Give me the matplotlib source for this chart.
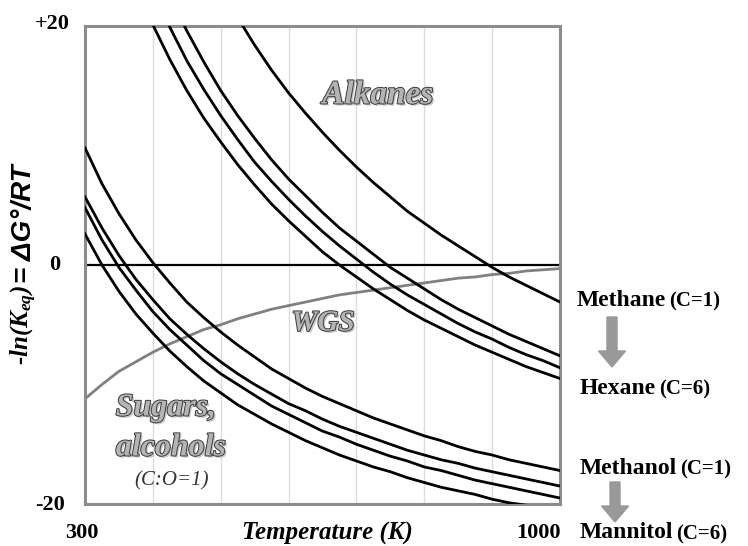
import numpy as np
import matplotlib
matplotlib.use("Agg")
import matplotlib.pyplot as plt
import matplotlib.patheffects as pe
from matplotlib.patches import FancyArrow

nan = np.nan

# temperature (K) and -ln(Keq) values
temps = [300, 325, 350, 375, 400, 425, 450, 475, 500, 525, 550, 575, 600, 625, 650,
         675, 700, 725, 750, 775, 800, 825, 850, 875, 900, 925, 950, 975, 1000]

methane = [nan, nan, nan, nan, nan, nan, nan, nan, 23.2, 20.7, 18.4, 16.3, 14.4, 12.7, 11.1,
           9.6, 8.2, 6.9, 5.7, 4.5, 3.5, 2.5, 1.6, 0.7, -0.2, -1.0, -1.7, -2.4, -3.1]
alkane_a = [nan, nan, nan, 23.4, 20.1, 17.2, 14.6, 12.3, 10.3, 8.4, 6.7, 5.1, 3.7, 2.4, 1.1,
            0.0, -1.0, -2.0, -2.9, -3.8, -4.6, -5.3, -6.0, -6.7, -7.3, -7.9, -8.5, -9.0, -9.5]
alkane_b = [nan, nan, nan, nan, 23.0, 19.9, 17.1, 14.7, 12.5, 10.5, 8.6, 7.0, 5.5, 4.1, 2.8,
            1.6, 0.5, -0.6, -1.6, -2.5, -3.3, -4.1, -4.9, -5.6, -6.2, -6.9, -7.5, -8.0, -8.6]
alkane_c = [nan, nan, nan, nan, nan, 22.5, 19.6, 17.0, 14.6, 12.5, 10.6, 8.8, 7.2, 5.8, 4.4,
            3.1, 2.0, 0.9, -0.2, -1.1, -2.0, -2.9, -3.7, -4.4, -5.1, -5.8, -6.4, -7.0, -7.6]

sugar_1 = [9.8, 6.8, 4.3, 2.1, 0.2, -1.5, -3.1, -4.4, -5.6, -6.7, -7.7, -8.7, -9.5, -10.3, -11.0,
           -11.6, -12.2, -12.8, -13.3, -13.8, -14.3, -14.7, -15.2, -15.6, -15.9, -16.3, -16.6, -16.9, -17.2]
sugar_2 = [5.7, 3.1, 0.8, -1.2, -2.9, -4.5, -5.8, -7.0, -8.1, -9.1, -10.0, -10.8, -11.6, -12.2, -12.9,
           -13.5, -14.0, -14.5, -15.0, -15.5, -15.9, -16.3, -16.6, -17.0, -17.3, -17.6, -17.9, -18.2, -18.5]
sugar_3 = [4.8, 2.1, -0.2, -2.1, -3.9, -5.4, -6.7, -8.0, -9.1, -10.0, -10.9, -11.8, -12.5, -13.2, -13.9,
           -14.4, -15.0, -15.5, -16.0, -16.4, -16.9, -17.2, -17.6, -18.0, -18.3, -18.6, -18.9, -19.2, -19.5]
sugar_4 = [2.6, 0.0, -2.2, -4.1, -5.7, -7.2, -8.5, -9.7, -10.7, -11.7, -12.5, -13.3, -14.0, -14.7, -15.3,
           -15.9, -16.4, -16.9, -17.3, -17.8, -18.2, -18.6, -18.9, -19.2, -19.6, -19.9, -20.1, -20.4, -20.7]

wgs = [-11.2, -10.0, -8.9, -8.1, -7.3, -6.6, -6.0, -5.4, -5.0, -4.5, -4.1, -3.7, -3.4, -3.1, -2.8,
       -2.5, -2.3, -2.1, -1.9, -1.7, -1.5, -1.3, -1.1, -1.0, -0.8, -0.7, -0.5, -0.4, -0.3]

curves = [methane, alkane_a, alkane_b, alkane_c, sugar_1, sugar_2, sugar_3, sugar_4]

W, H = 748, 546
fig = plt.figure(figsize=(W / 100, H / 100), dpi=100)
ax = fig.add_axes([85 / W, 1 - 504 / H, 475 / W, 478 / H])

def fx(px):
    return px / W

def fy(py):
    return 1 - py / H

for c in curves:
    ax.plot(temps, c, color="black", lw=2.0, zorder=3)

ax.plot(temps, wgs, color="#808080", lw=2.0, zorder=2)
ax.axhline(0, color="black", lw=1.6, zorder=2)

ax.set_xlim(300, 1000)
ax.set_ylim(-20, 20)
ax.set_xticks([400, 500, 600, 700, 800, 900])
ax.set_yticks([])
ax.tick_params(length=0, labelbottom=False)
ax.grid(axis="x", color="#dcdcdc", lw=1)
for s in ax.spines.values():
    s.set_color("#8c8c8c")
    s.set_linewidth(2.2)

serif = "Liberation Serif"
sans = "Liberation Sans"

# axis numbers
for txt, x, y in [("+20", 52, 24), ("0", 55, 265), ("-20", 50, 505)]:
    fig.text(fx(x), fy(y), txt, ha="center", va="center", family=serif,
             weight="bold", size=16)
fig.text(fx(82), fy(533), "300", ha="center", va="center", family=serif, weight="bold", size=16)
fig.text(fx(538), fy(533), "1000", ha="center", va="center", family=serif, weight="bold", size=16)

fig.text(fx(327), fy(533), "Temperature (K)", ha="center", va="center", family=serif,
         weight="bold", style="italic", size=18)

# y label in two pieces
plt.rcParams["mathtext.fontset"] = "custom"
plt.rcParams["mathtext.it"] = "Liberation Serif:bold:italic"
plt.rcParams["mathtext.rm"] = "Liberation Serif:bold"
fig.text(fx(24), fy(325), r"-ln($K_{eq}$)", rotation=90, ha="center", va="center",
         family=serif, weight="bold", style="italic", size=18)
fig.text(fx(24), fy(224), "= \u0394G\u00b0/RT", rotation=90, ha="center", va="center",
         family=sans, weight="bold", style="italic", size=20)

# outlined labels inside the plot
outline = [pe.SimplePatchShadow(offset=(1.5, -1.5), shadow_rgbFace="#bbbbbb", alpha=0.8),
           pe.Stroke(linewidth=1.4, foreground="#3a3a3a"), pe.Normal()]
for txt, x, y, sz in [("Alkanes", 378, 95, 24), ("WGS", 323, 323, 21),
                      ("Sugars,", 166, 408, 23), ("alcohols", 171, 448, 23)]:
    t = fig.text(fx(x), fy(y), txt, ha="center", va="center", family=serif, weight="bold",
                 style="italic", size=sz, color="#b4b4b4")
    t.set_path_effects(outline)
fig.text(fx(172), fy(481), "(C:O=1)", ha="center", va="center", family=serif,
         style="italic", size=15, color="#333333")

# right hand annotations
def side_label(name, tag, x, y):
    t1 = fig.text(fx(x), fy(y), name, ha="left", va="center", family=serif, weight="bold", size=17)
    fig.canvas.draw()
    bb = t1.get_window_extent()
    fig.text(bb.x1 / W + 3 / W, fy(y + 1), tag, ha="left", va="center", family=serif,
             weight="bold", size=15)

side_label("Methane", "(C=1)", 577, 300)
side_label("Hexane", "(C=6)", 580, 388)
side_label("Methanol", "(C=1)", 580, 468)
side_label("Mannitol", "(C=6)", 580, 533)

for xc, top, bot in [(612, 317, 367), (615, 482, 522)]:
    arr = FancyArrow(xc / 100, (H - top) / 100, 0, -(bot - top) / 100, width=0.10,
                     head_width=0.27, head_length=0.16, length_includes_head=True,
                     color="#999999", transform=fig.dpi_scale_trans)
    fig.patches.append(arr)

fig.savefig("out.png", dpi=100)
